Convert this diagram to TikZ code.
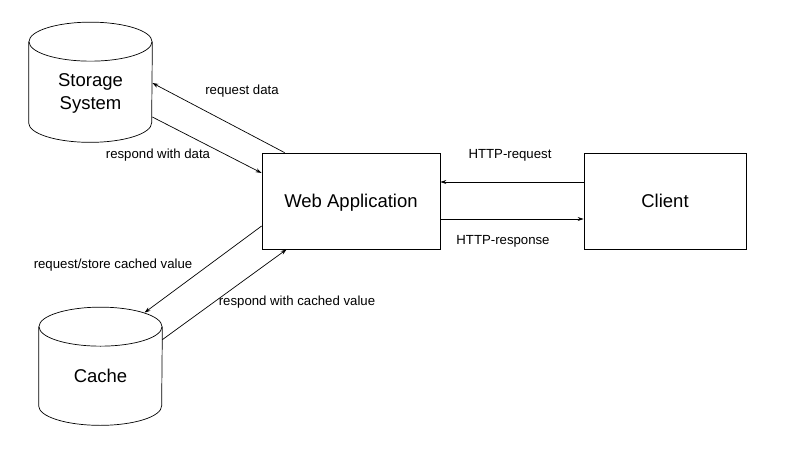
\documentclass[tikz,border=0pt]{standalone}
\usepackage{fontspec}
\setmainfont{Liberation Sans}
\usetikzlibrary{arrows.meta,calc}

\begin{document}
\begin{tikzpicture}[x=1pt,y=1pt,>={Stealth[length=6pt,width=4pt]},line width=0.7pt]
\tikzstyle{box}=[draw,font=\fontsize{18.5}{23}\selectfont,align=center,minimum height=96pt,inner sep=0pt,text depth=0pt]
\tikzstyle{db}=[font=\fontsize{18.5}{23}\selectfont,align=center,minimum width=123pt,inner sep=0pt,text depth=0pt]
\tikzstyle{lbl}=[font=\fontsize{13.2}{16}\selectfont]
\useasboundingbox (0,0) rectangle (795,467);
\node[box,minimum width=178pt] (web) at (351,266) {Web Application};
\node[box,minimum width=162pt] (client) at (665,266) {Client};
\node[db,minimum height=100pt] (store) at (90.5,375) {Storage\\System};
\node[db,minimum height=98pt] (cache) at (100.5,91) {Cache};
\foreach \c in {store,cache} { \draw (\c.north) ellipse[x radius=61.5pt,y radius=19.5pt]; \draw (\c.north west) -- ($(\c.south west)+(0,19.5)$) arc[start angle=180,end angle=360,x radius=61.5pt,y radius=19.5pt] -- (\c.north east); }
\draw[->] ($(web.north west)+(23,0)$) -- ($(store.east)+(0,9)$);
\draw[->] ($(store.east)+(0,-25)$) -- ($(web.west)+(0,28)$);
\draw[->] ($(web.west)+(0,-25)$) -- ($(cache.north)+(44,14)$);
\draw[->] ($(cache.north east)+(0,-13)$) -- ($(web.south west)+(25,0)$);
\draw[->] ($(client.west)+(0,19)$) -- ($(web.east)+(0,19)$);
\draw[->] ($(web.east)+(0,-18)$) -- ($(client.west)+(0,-18)$);
\node[lbl] (reqdata) at (242,376) {request data};
\node[lbl] (respdata) at (158,312) {respond with data};
\node[lbl] (httpreq) at (510,312) {HTTP-request};
\node[lbl] (httpresp) at (503,226) {HTTP-response};
\node[lbl] (reqcache) at (113,202) {request/store cached value};
\node[lbl] (respcache) at (297,165) {respond with cached value};
\end{tikzpicture}
\end{document}
